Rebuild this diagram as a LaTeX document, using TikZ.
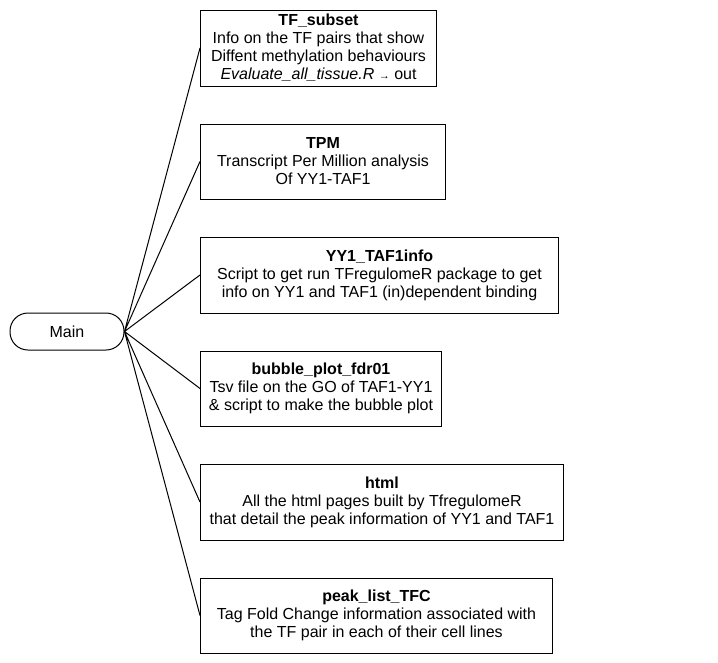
\documentclass[tikz,border=0pt]{standalone}
\usepackage{fontspec}
\setmainfont{Liberation Sans}
\begin{document}
\begin{tikzpicture}[x=1pt,y=-1pt,line width=1pt,
    box/.style={draw,anchor=west,align=center,inner sep=0pt,minimum height=75pt,font=\fontsize{16}{18}\selectfont},
    start/.style={draw,rounded corners=18pt,minimum width=114pt,minimum height=37pt,inner sep=0pt,font=\fontsize{16}{18}\selectfont}]
        \useasboundingbox (0,0) rectangle (718,662);
        \node[start] (main) at (67,331.5) {Main};
        \node[box,minimum width=236pt,minimum height=76pt] (tfsubset) at (200,48)
            {\textbf{TF\_subset}\\Info on the TF pairs that show\\Diffent methylation behaviours\\\textit{Evaluate\_all\_tissue.R} {\fontsize{11}{11}\selectfont→} out};
        \node[box,minimum width=245pt] (tpm) at (200,161.5)
            {\textbf{TPM}\\Transcript Per Million analysis\\Of YY1-TAF1};
        \node[box,minimum width=358pt,minimum height=76pt] (yyinfo) at (200,275)
            {\textbf{YY1\_TAF1info}\\Script to get run TFregulomeR package to get\\info on YY1 and TAF1 (in)dependent binding};
        \node[box,minimum width=241pt] (bubble) at (200,388.5)
            {\textbf{bubble\_plot\_fdr01}\\Tsv file on the GO of TAF1-YY1\\\& script to make the bubble plot};
        \node[box,minimum width=363pt,minimum height=76pt] (html) at (200,502)
            {\textbf{html}\\All the html pages built by TfregulomeR\\that detail the peak information of YY1 and TAF1};
        \node[box,minimum width=352pt] (peaks) at (200,615.5)
            {\textbf{peak\_list\_TFC}\\Tag Fold Change information associated with\\the TF pair in each of their cell lines};
        \draw (main.east) -- (tfsubset.west)
              (main.east) -- (tpm.west)
              (main.east) -- (yyinfo.west)
              (main.east) -- (bubble.west)
              (main.east) -- (html.west)
              (main.east) -- (peaks.west);
\end{tikzpicture}
\end{document}
